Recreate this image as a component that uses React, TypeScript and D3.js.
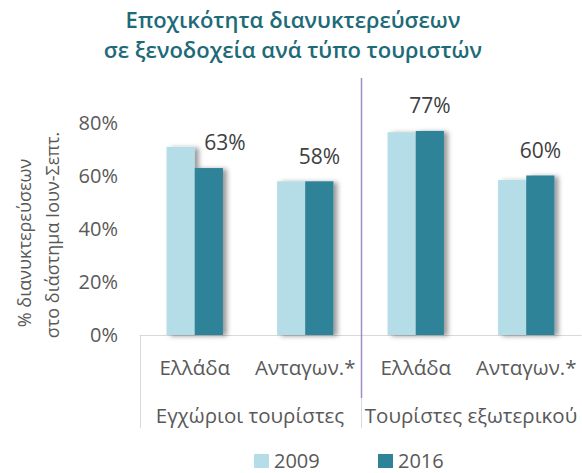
import { useEffect, useRef } from "react";
import * as d3 from "d3";

// chart values
const categories = ["Ελλάδα", "Ανταγων.*", "Ελλάδα", "Ανταγων.*"];
const groups = ["Εγχώριοι τουρίστες", "Τουρίστες εξωτερικού"];
const series = ["2009", "2016"];
const values2009 = [0.71, 0.58, 0.765, 0.585];
const values2016 = [0.63, 0.58, 0.77, 0.602];
const yTicks = [0, 0.2, 0.4, 0.6, 0.8];
const titleLines = ["Εποχικότητα διανυκτερεύσεων", "σε ξενοδοχεία ανά τύπο τουριστών"];
const yTitleLines = ["% διανυκτερεύσεων", "στο διάστημα Ιουν-Σεπτ."];

const colors = ["#b5dde7", "#2e8399"];
const font = "'Open Sans', sans-serif";

export default function App() {
  const ref = useRef<SVGSVGElement>(null);

  useEffect(() => {
    if (!ref.current) return;
    const svg = d3.select(ref.current);
    svg.selectAll("*").remove();

    const width = 582;
    const height = 473;
    const margin = { top: 123, bottom: 335, left: 139.5, right: 581.5 };

    // drop shadow for the bars
    const defs = svg.append("defs");
    defs.append("filter")
      .attr("id", "shadow")
      .attr("x", "-20%").attr("y", "-10%")
      .attr("width", "160%").attr("height", "130%")
      .append("feDropShadow")
      .attr("dx", 4).attr("dy", 1)
      .attr("stdDeviation", 2.5)
      .attr("flood-color", "#000")
      .attr("flood-opacity", 0.4);

    const y = d3.scaleLinear().domain([0, 0.8]).range([margin.bottom, margin.top]);

    const x = d3.scaleBand<number>()
      .domain(categories.map((_, i) => i))
      .range([margin.left, margin.right])
      .paddingInner(0.49)
      .paddingOuter(0.245);

    const xs = d3.scaleBand<string>()
      .domain(series)
      .range([0, x.bandwidth()]);

    // title
    svg.append("g")
      .selectAll("text")
      .data(titleLines)
      .join("text")
      .attr("x", 293)
      .attr("y", (_, i) => 28 + i * 30)
      .attr("text-anchor", "middle")
      .attr("font-family", font)
      .attr("font-weight", 600)
      .attr("font-size", 22)
      .attr("fill", "#1d6a78")
      .text(d => d);

    // y axis ticks
    svg.append("g")
      .selectAll("text")
      .data(yTicks)
      .join("text")
      .attr("x", 118)
      .attr("y", d => y(d))
      .attr("dy", "0.35em")
      .attr("text-anchor", "end")
      .attr("font-family", font)
      .attr("font-size", 20)
      .attr("fill", "#595959")
      .text(d => d3.format(".0%")(d));

    // y axis title
    svg.append("g")
      .selectAll("text")
      .data(yTitleLines)
      .join("text")
      .attr("transform", (_, i) => `translate(${25 + i * 28},${243 - i * 8}) rotate(-90)`)
      .attr("dy", "0.35em")
      .attr("text-anchor", "middle")
      .attr("font-family", font)
      .attr("font-size", 18)
      .attr("fill", "#595959")
      .text(d => d);

    // category axis box
    const axisG = svg.append("g").attr("stroke", "#d9d9d9").attr("stroke-width", 1);
    axisG.append("line")
      .attr("x1", margin.left).attr("x2", margin.right)
      .attr("y1", margin.bottom + 0.5).attr("y2", margin.bottom + 0.5);
    const splitX = (x(1)! + x.bandwidth() + x(2)!) / 2;
    [margin.left, splitX, margin.right].forEach(px => {
      axisG.append("line")
        .attr("x1", Math.round(px) + 0.5).attr("x2", Math.round(px) + 0.5)
        .attr("y1", margin.bottom).attr("y2", 428);
    });

    // bars
    const barData = categories.flatMap((_, i) => [
      { i, s: series[0], v: values2009[i] },
      { i, s: series[1], v: values2016[i] },
    ]);
    svg.append("g")
      .attr("filter", "url(#shadow)")
      .selectAll("rect")
      .data(barData)
      .join("rect")
      .attr("x", d => x(d.i)! + xs(d.s)!)
      .attr("y", d => y(d.v))
      .attr("width", xs.bandwidth())
      .attr("height", d => y(0) - y(d.v))
      .attr("fill", d => colors[series.indexOf(d.s)]);

    // data labels (2016 only)
    svg.append("g")
      .selectAll("text")
      .data(values2016)
      .join("text")
      .attr("x", (d, i) => x(i)! + xs(series[1])! + xs.bandwidth() / 2 + (values2009[i] > d + 0.03 ? 16 : 0))
      .attr("y", d => y(d) - 25)
      .attr("dy", "0.35em")
      .attr("text-anchor", "middle")
      .attr("font-family", font)
      .attr("font-size", 21)
      .attr("fill", "#404040")
      .text(d => d3.format(".0%")(d));

    // category labels
    svg.append("g")
      .selectAll("text")
      .data(categories)
      .join("text")
      .attr("x", (_, i) => x(i)! + x.bandwidth() / 2)
      .attr("y", 368)
      .attr("dy", "0.35em")
      .attr("text-anchor", "middle")
      .attr("font-family", font)
      .attr("font-size", 20.5)
      .attr("fill", "#595959")
      .text(d => d);

    // group labels
    svg.append("g")
      .selectAll("text")
      .data(groups)
      .join("text")
      .attr("x", (_, g) => (x(g * 2)! + x(g * 2 + 1)! + x.bandwidth()) / 2)
      .attr("y", 416)
      .attr("dy", "0.35em")
      .attr("text-anchor", "middle")
      .attr("font-family", font)
      .attr("font-size", 20.5)
      .attr("fill", "#595959")
      .text(d => d);

    // divider between the two groups
    svg.append("line")
      .attr("x1", Math.round(splitX) + 0.5).attr("x2", Math.round(splitX) + 0.5)
      .attr("y1", 78).attr("y2", 398)
      .attr("stroke", "#a08ccb")
      .attr("stroke-width", 1.5);

    // legend
    const legend = svg.append("g")
      .selectAll("g")
      .data(series)
      .join("g")
      .attr("transform", (_, i) => `translate(${254 + i * 124},454)`);
    legend.append("rect")
      .attr("width", 15).attr("height", 14)
      .attr("fill", (_, i) => colors[i]);
    legend.append("text")
      .attr("x", 20).attr("y", 7)
      .attr("dy", "0.35em")
      .attr("font-family", font)
      .attr("font-size", 20)
      .attr("fill", "#595959")
      .text(d => d);

    svg.attr("width", width).attr("height", height);
  }, []);

  return (
    <svg ref={ref} width={582} height={473}
      style={{ position: "absolute", left: 0, top: 0, background: "#fff" }} />
  );
}
